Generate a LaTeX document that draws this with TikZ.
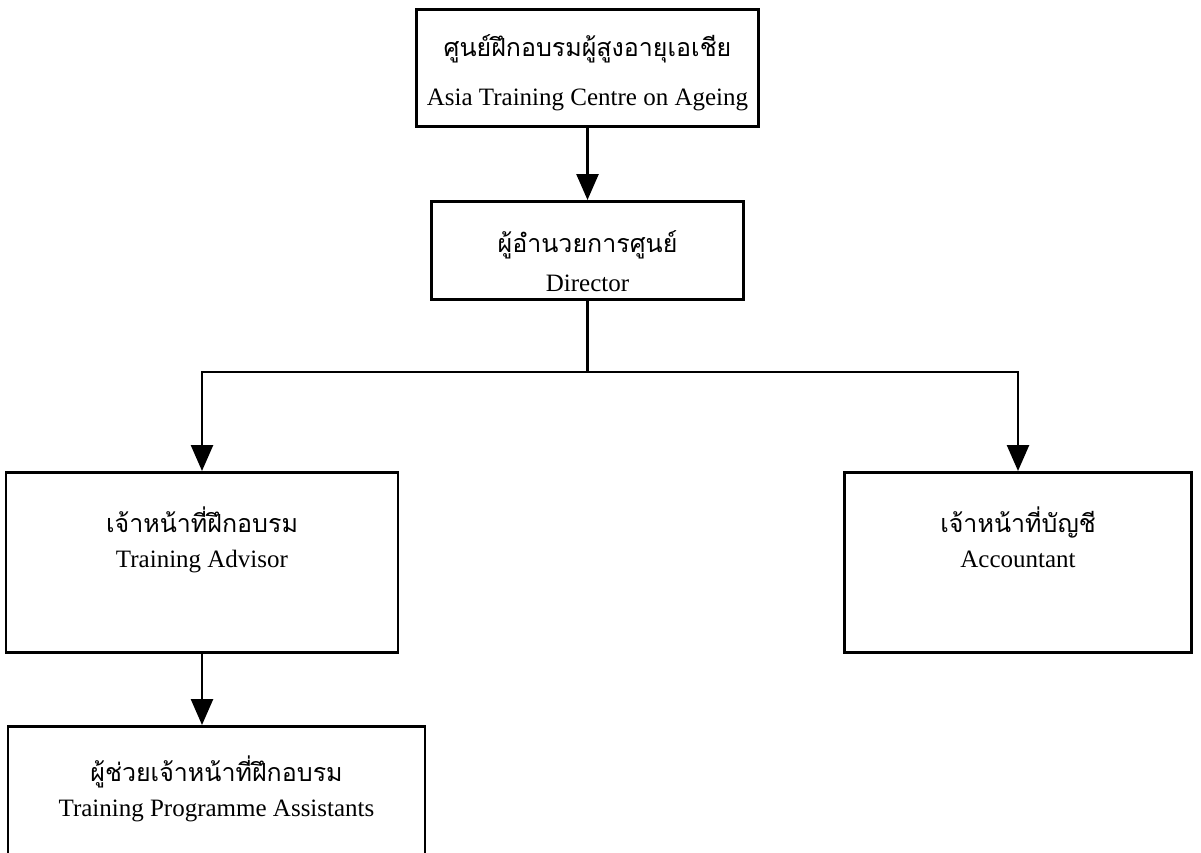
\documentclass[tikz,border=0pt]{standalone}
\usepackage{fontspec}
\setmainfont{Liberation Serif}
\newfontfamily\thaifont[Script=Thai]{Loma}
\usepackage{tikz}
\usetikzlibrary{arrows.meta}
\usetikzlibrary{positioning}
\tikzset{orgbox/.style = {draw, line width=2.6pt, anchor=north,
                          inner xsep=0pt, inner ysep=0pt, align=center,
                          font=\fontsize{25}{35}\selectfont},
         link/.style = {line width=2.6pt},
         arr/.style = {link, -{Triangle[length=26pt, width=22pt]}}}
\newcommand{\thailine}[1]{{\thaifont\fontsize{25}{35}\selectfont #1}}

\begin{document}
\begin{tikzpicture}[x=1pt, y=-1pt]
      \useasboundingbox (0, 0) rectangle (1201, 852);
      \clip (0, 0) rectangle (1201, 852);

      \node [orgbox, minimum width=342pt, text height=96pt, text depth=21pt] (centre) at (587.5, 8)
            {\thailine{ศูนย์ฝึกอบรมผู้สูงอายุเอเชีย}\\[14pt] Asia Training Centre on Ageing};
      \node [orgbox, minimum width=312pt, text height=90pt, text depth=8pt] (director) at (587.5, 200)
            {\thailine{ผู้อำนวยการศูนย์}\\[4pt] Director};
      \node [orgbox, minimum width=392pt, text height=95pt, text depth=85pt] (advisor) at (202, 471)
            {\thailine{เจ้าหน้าที่ฝึกอบรม}\\ Training Advisor};
      \node [orgbox, minimum width=347pt, text height=95pt, text depth=85pt] (accountant) at (1018, 471)
            {\thailine{เจ้าหน้าที่บัญชี}\\ Accountant};
      \node [orgbox, minimum width=417pt, text height=90pt, text depth=60pt] (assistants) at (216.5, 725)
            {\thailine{ผู้ช่วยเจ้าหน้าที่ฝึกอบรม}\\ Training Programme Assistants};

      \coordinate (fork) at (587.5, 372);
      \draw [arr] (centre) -- (director);
      \draw [link] (director) -- (fork);
      \draw [arr] (fork) -| (advisor);
      \draw [arr] (fork) -| (accountant);
      \draw [arr] (advisor.south) -- (advisor.south |- assistants.north);

    \end{tikzpicture}
\end{document}
